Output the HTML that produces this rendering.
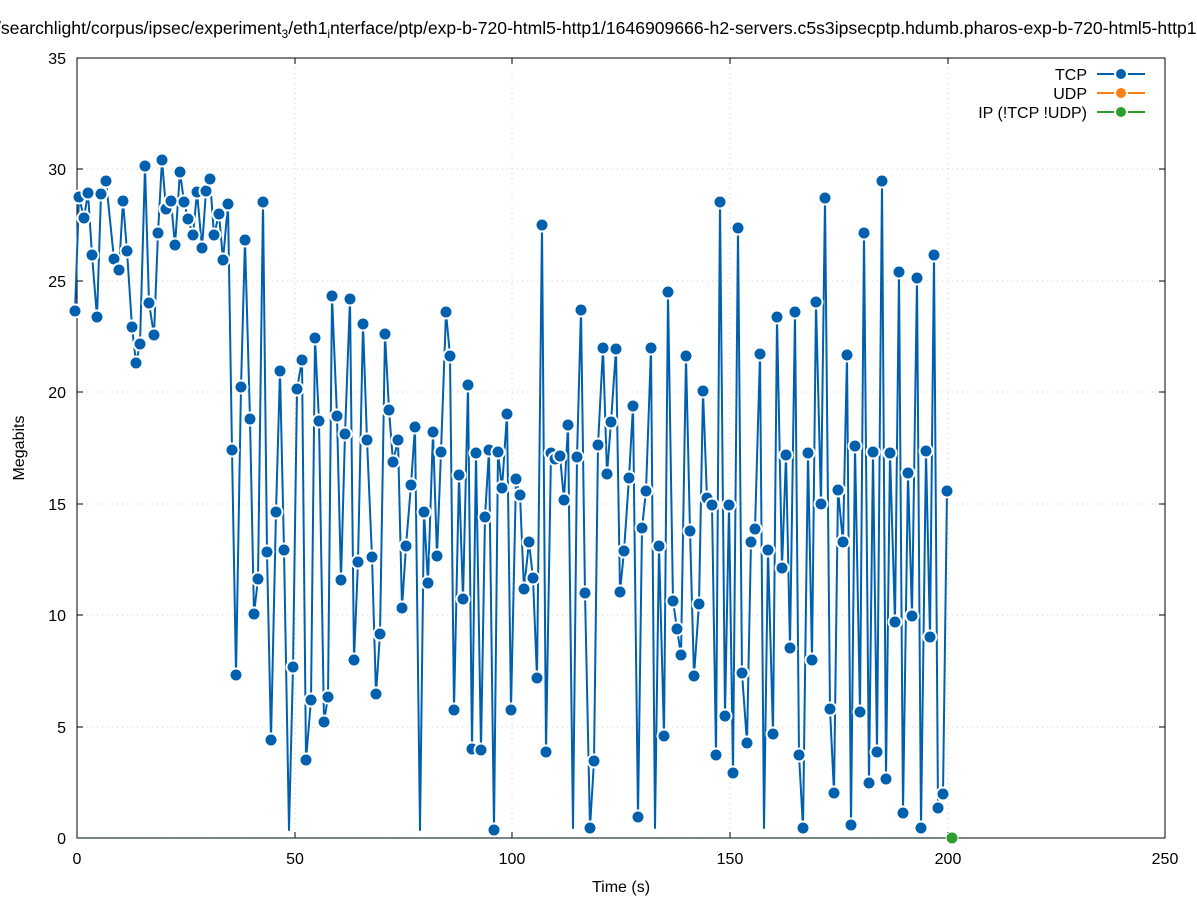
<!DOCTYPE html>
<html><head><meta charset="utf-8"><style>
html,body{margin:0;padding:0;background:#fff;}
svg{display:block;font-family:"Liberation Sans",sans-serif;}
</style></head><body>
<svg width="1197" height="900" viewBox="0 0 1197 900" xmlns="http://www.w3.org/2000/svg">
<defs>
<marker id="m" markerUnits="userSpaceOnUse" markerWidth="20" markerHeight="20" refX="10" refY="10" viewBox="0 0 20 20">
<circle cx="10" cy="10" r="6.5" fill="#0060ad" stroke="#fff" stroke-width="2"/>
</marker>
</defs>
<rect width="1197" height="900" fill="#fff"/>
<g stroke="#d0d0d0" stroke-width="1" stroke-dasharray="1,4">
<line x1="77" y1="58" x2="1165" y2="58"/><line x1="77" y1="169" x2="1165" y2="169"/><line x1="77" y1="281" x2="1165" y2="281"/><line x1="77" y1="392" x2="1165" y2="392"/><line x1="77" y1="504" x2="1165" y2="504"/><line x1="77" y1="615" x2="1165" y2="615"/><line x1="77" y1="727" x2="1165" y2="727"/>
<line x1="295" y1="58" x2="295" y2="838"/><line x1="512" y1="58" x2="512" y2="838"/><line x1="730" y1="58" x2="730" y2="838"/><line x1="948" y1="58" x2="948" y2="838"/>
</g>
<rect x="77" y="58" width="1088" height="780" fill="none" stroke="#000" stroke-width="1"/>
<g stroke="#000" stroke-width="1">
<line x1="77" y1="169" x2="83" y2="169"/><line x1="77" y1="281" x2="83" y2="281"/><line x1="77" y1="392" x2="83" y2="392"/><line x1="77" y1="504" x2="83" y2="504"/><line x1="77" y1="615" x2="83" y2="615"/><line x1="77" y1="727" x2="83" y2="727"/>
<line x1="1165" y1="169" x2="1159" y2="169"/><line x1="1165" y1="281" x2="1159" y2="281"/><line x1="1165" y1="392" x2="1159" y2="392"/><line x1="1165" y1="504" x2="1159" y2="504"/><line x1="1165" y1="615" x2="1159" y2="615"/><line x1="1165" y1="727" x2="1159" y2="727"/>
<line x1="295" y1="838" x2="295" y2="832"/><line x1="512" y1="838" x2="512" y2="832"/><line x1="730" y1="838" x2="730" y2="832"/><line x1="948" y1="838" x2="948" y2="832"/>
<line x1="295" y1="58" x2="295" y2="64"/><line x1="512" y1="58" x2="512" y2="64"/><line x1="730" y1="58" x2="730" y2="64"/><line x1="948" y1="58" x2="948" y2="64"/>
</g>
<g font-size="16" fill="#000" text-anchor="end">
<text x="66" y="64">35</text><text x="66" y="175">30</text><text x="66" y="287">25</text><text x="66" y="398">20</text><text x="66" y="510">15</text><text x="66" y="621">10</text><text x="66" y="733">5</text><text x="66" y="844">0</text>
</g>
<g font-size="16" fill="#000" text-anchor="middle">
<text x="77" y="864">0</text><text x="295" y="864">50</text><text x="512" y="864">100</text><text x="730" y="864">150</text><text x="948" y="864">200</text><text x="1165" y="864">250</text>
<text x="621" y="892">Time (s)</text>
</g>
<text x="-4" y="34" font-size="17.6" fill="#000">/searchlight/corpus/ipsec/experiment<tspan font-size="12" dy="4">3</tspan><tspan dy="-4">/eth1</tspan><tspan font-size="12" dy="4">i</tspan><tspan dy="-4">nterface/ptp/exp-b-720-html5-http1/1646909666-h2-servers.c5s3ipsecptp.hdumb.pharos-exp-b-720-html5-http1</tspan></text>
<text transform="translate(24,448) rotate(-90)" font-size="16" text-anchor="middle">Megabits</text>
<line x1="77" y1="838" x2="952" y2="838" stroke="#009e73" stroke-width="1.5" stroke-dasharray="1,3.35" opacity="0.6"/>
<polyline fill="none" stroke="#0060ad" stroke-width="2" stroke-linejoin="round" points="75,311 79,197 84,218 88,193 92,255 97,317 101,194 106,181 114,259 119,270 123,201 127,251 132,327 136,363 140,344 145,166 149,303 154,335 158,233 162,160 166,209 171,201 175,245 180,172 184,202 188,219 193,235 197,192 202,248 206,191 210,179 214,235 219,214 223,260 228,204 232,450 236,675 241,387 245,240 250,419 254,614 258,579 263,202 267,552 271,740 276,512 280,371 284,550 289,830 293,667 297,389 302,360 306,760 311,700 315,338 319,421 324,722 328,697 332,296 337,416 341,580 345,434 350,299 354,660 358,562 363,324 367,440 372,557 376,694 380,634 385,334 389,410 393,462 398,440 402,608 406,546 411,485 415,427 420,830 424,512 428,583 433,432 437,556 441,452 446,312 450,356 454,710 459,475 463,599 468,385 472,749 476,453 481,750 485,517 489,450 494,830 498,452 502,488 507,414 511,710 516,479 520,495 524,589 529,542 533,578 537,678 542,225 546,752 551,453 555,459 560,456 564,500 568,425 573,828 577,457 581,310 585,593 590,828 594,761 598,445 603,348 607,474 611,422 616,349 620,592 624,551 629,478 633,406 638,817 642,528 646,491 651,348 655,828 659,546 664,736 668,292 673,601 677,629 681,655 686,356 690,531 694,676 699,604 703,391 707,498 712,505 716,755 720,202 725,716 729,505 733,773 738,228 742,673 747,743 751,542 755,529 760,354 764,828 768,550 773,734 777,317 782,568 786,455 790,648 795,312 799,755 803,828 808,453 812,660 816,302 821,504 825,198 830,709 834,793 838,490 843,542 847,355 851,825 855,446 860,712 864,233 869,783 873,452 877,752 882,181 886,779 890,453 895,622 899,272 903,813 908,473 912,616 917,278 921,828 926,451 930,637 934,255 938,808 943,794 947,491"/>
<polyline fill="none" stroke="none" marker-start="url(#m)" marker-mid="url(#m)" marker-end="url(#m)" points="75,311 79,197 84,218 88,193 92,255 97,317 101,194 106,181 114,259 119,270 123,201 127,251 132,327 136,363 140,344 145,166 149,303 154,335 158,233 162,160 166,209 171,201 175,245 180,172 184,202 188,219 193,235 197,192 202,248 206,191 210,179 214,235 219,214 223,260 228,204 232,450 236,675 241,387 245,240 250,419 254,614 258,579 263,202 267,552 271,740 276,512 280,371 284,550 293,667 297,389 302,360 306,760 311,700 315,338 319,421 324,722 328,697 332,296 337,416 341,580 345,434 350,299 354,660 358,562 363,324 367,440 372,557 376,694 380,634 385,334 389,410 393,462 398,440 402,608 406,546 411,485 415,427 424,512 428,583 433,432 437,556 441,452 446,312 450,356 454,710 459,475 463,599 468,385 472,749 476,453 481,750 485,517 489,450 494,830 498,452 502,488 507,414 511,710 516,479 520,495 524,589 529,542 533,578 537,678 542,225 546,752 551,453 555,459 560,456 564,500 568,425 577,457 581,310 585,593 590,828 594,761 598,445 603,348 607,474 611,422 616,349 620,592 624,551 629,478 633,406 638,817 642,528 646,491 651,348 659,546 664,736 668,292 673,601 677,629 681,655 686,356 690,531 694,676 699,604 703,391 707,498 712,505 716,755 720,202 725,716 729,505 733,773 738,228 742,673 747,743 751,542 755,529 760,354 768,550 773,734 777,317 782,568 786,455 790,648 795,312 799,755 803,828 808,453 812,660 816,302 821,504 825,198 830,709 834,793 838,490 843,542 847,355 851,825 855,446 860,712 864,233 869,783 873,452 877,752 882,181 886,779 890,453 895,622 899,272 903,813 908,473 912,616 917,278 921,828 926,451 930,637 934,255 938,808 943,794 947,491"/>
<circle cx="952" cy="838" r="6" fill="#2ca02c" stroke="#fff" stroke-width="1"/>
<g font-size="16" text-anchor="end" fill="#000">
<text x="1087" y="80">TCP</text><text x="1087" y="99">UDP</text><text x="1087" y="118">IP (!TCP  !UDP)</text>
</g>
<line x1="1097" y1="74" x2="1145" y2="74" stroke="#0060ad" stroke-width="2"/><circle cx="1121" cy="74" r="6" fill="#0060ad" stroke="#fff" stroke-width="2"/>
<line x1="1097" y1="93" x2="1145" y2="93" stroke="#ff7f0e" stroke-width="2"/><circle cx="1121" cy="93" r="6" fill="#ff7f0e" stroke="#fff" stroke-width="2"/>
<line x1="1097" y1="112" x2="1145" y2="112" stroke="#2ca02c" stroke-width="2"/><circle cx="1121" cy="112" r="6" fill="#2ca02c" stroke="#fff" stroke-width="2"/>
</svg>
</body></html>
